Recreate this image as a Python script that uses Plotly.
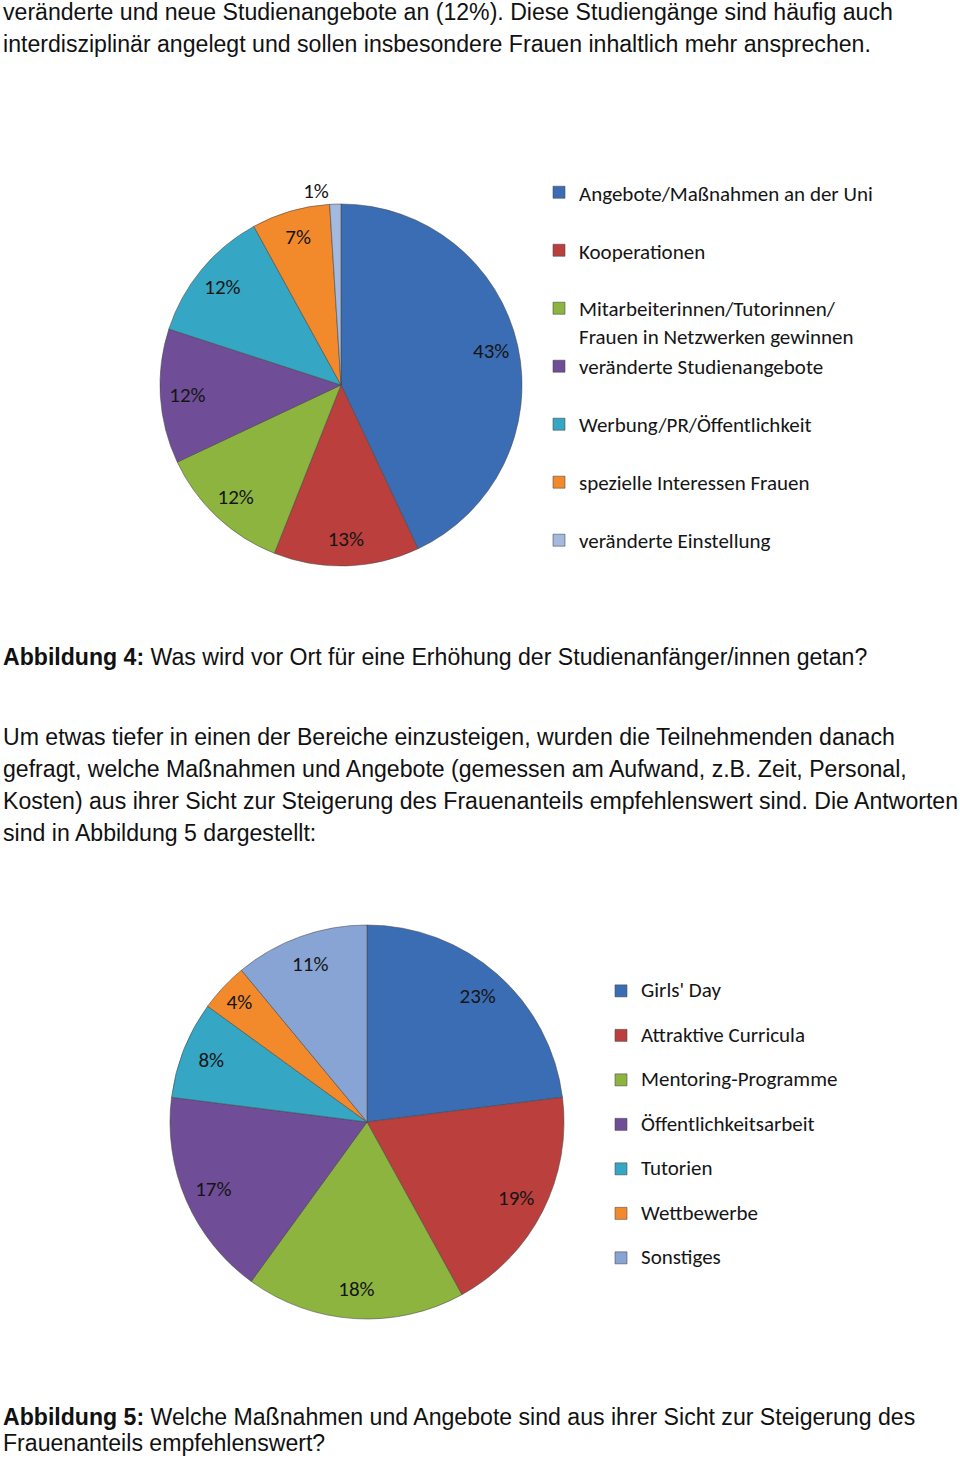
import plotly.graph_objects as go

W, H = 960, 1460

# ---------------- data ----------------
cats1 = ["Angebote/Maßnahmen an der Uni",
         "Kooperationen",
         "Mitarbeiterinnen/Tutorinnen/<br>Frauen in Netzwerken gewinnen",
         "veränderte Studienangebote",
         "Werbung/PR/Öffentlichkeit",
         "spezielle Interessen Frauen",
         "veränderte Einstellung"]
vals1 = [43, 13, 12, 12, 12, 7, 1]

cats2 = ["Girls' Day",
         "Attraktive Curricula",
         "Mentoring-Programme",
         "Öffentlichkeitsarbeit",
         "Tutorien",
         "Wettbewerbe",
         "Sonstiges"]
vals2 = [23, 19, 18, 17, 8, 4, 11]

top_lines = ["veränderte und neue Studienangebote an (12%). Diese Studiengänge sind häufig auch",
             "interdisziplinär angelegt und sollen insbesondere Frauen inhaltlich mehr ansprechen."]
caption4 = ["<b>Abbildung 4:</b> Was wird vor Ort für eine Erhöhung der Studienanfänger/innen getan?"]
para_lines = ["Um etwas tiefer in einen der Bereiche einzusteigen, wurden die Teilnehmenden danach",
              "gefragt, welche Maßnahmen und Angebote (gemessen am Aufwand, z.B. Zeit, Personal,",
              "Kosten) aus ihrer Sicht zur Steigerung des Frauenanteils empfehlenswert sind. Die Antworten",
              "sind in Abbildung 5 dargestellt:"]
caption5 = ["<b>Abbildung 5:</b> Welche Maßnahmen und Angebote sind aus ihrer Sicht zur Steigerung des",
            "Frauenanteils empfehlenswert?"]

# ---------------- styles ----------------
colors1 = ["#3b6db4", "#bb403d", "#8db43f", "#6f4e97", "#35a6c3", "#f28a2b", "#a3b9de"]
colors2 = ["#3b6db4", "#bb403d", "#8db43f", "#6f4e97", "#35a6c3", "#f28a2b", "#87a4d4"]
LABFONT = "Carlito, Calibri, Lato, sans-serif"
BODYFONT = "Liberation Sans, Arial, Helvetica, sans-serif"
TXT = 21            # visible legend / label text size
LEG1 = 21.15        # legend 1 line pitch font size
LEG2 = 15.96        # legend 2 line pitch font size


def leg_labels(cats):
    out = []
    for c in cats:
        lines = c.split("<br>")
        lines = lines + [" "] * (2 - len(lines))
        out.append("<br>".join(f'<span style="font-size:{TXT}px">{l}</span>' for l in lines))
    return out


def dom(cx, cy, r):
    return dict(x=[(cx - r) / W, (cx + r) / W], y=[1 - (cy + r) / H, 1 - (cy - r) / H])


line_style = dict(color="rgba(70,70,70,0.55)", width=1)

fig = go.Figure()

# pie 1
d1 = dom(341, 385, 181)
fig.add_trace(go.Pie(labels=leg_labels(cats1), values=vals1, sort=False, direction="clockwise",
                     rotation=0, domain=d1, marker=dict(colors=colors1, line=line_style),
                     textinfo="none", hoverinfo="skip", legend="legend"))
fig.add_trace(go.Pie(labels=leg_labels(cats1), values=vals1, sort=False, direction="clockwise",
                     rotation=0, domain=d1, hole=0.7,
                     marker=dict(colors=["rgba(0,0,0,0)"] * len(vals1), line=dict(width=0)),
                     texttemplate="%{value}%", insidetextorientation="horizontal",
                     textposition=["inside"] * (len(vals1) - 1) + ["outside"],
                     textfont=dict(family=LABFONT, size=TXT, color="#151515"),
                     showlegend=False, hoverinfo="skip"))

# pie 2
d2 = dom(367, 1122, 197)
fig.add_trace(go.Pie(labels=leg_labels(cats2), values=vals2, sort=False, direction="clockwise",
                     rotation=0, domain=d2, marker=dict(colors=colors2, line=line_style),
                     textinfo="none", hoverinfo="skip", legend="legend2"))
fig.add_trace(go.Pie(labels=leg_labels(cats2), values=vals2, sort=False, direction="clockwise",
                     rotation=0, domain=d2, hole=0.7,
                     marker=dict(colors=["rgba(0,0,0,0)"] * len(vals2), line=dict(width=0)),
                     texttemplate="%{value}%", insidetextorientation="horizontal",
                     textposition="inside",
                     textfont=dict(family=LABFONT, size=TXT, color="#151515"),
                     showlegend=False, hoverinfo="skip"))

# body text
annotations = []


def add_lines(lines, y0, pitch, size=23.1):
    for i, t in enumerate(lines):
        annotations.append(dict(text=t, x=2 / W, y=1 - (y0 + i * pitch) / H, xref="paper", yref="paper",
                                xanchor="left", yanchor="middle", showarrow=False, borderpad=0,
                                font=dict(family=BODYFONT, size=size, color="#111")))


add_lines(top_lines, 12, 32)
add_lines(caption4, 657, 32)
add_lines(para_lines, 737, 32)
add_lines(caption5, 1417, 26)

fig.update_layout(
    width=W, height=H, margin=dict(l=0, r=0, t=0, b=0),
    paper_bgcolor="white", plot_bgcolor="white",
    annotations=annotations,
    legend=dict(x=539 / W, y=1 - 172 / H, xanchor="left", yanchor="top", valign="top",
                font=dict(family=LABFONT, size=LEG1, color="#151515"), bgcolor="rgba(0,0,0,0)",
                traceorder="normal"),
    legend2=dict(x=601 / W, y=1 - 974 / H, xanchor="left", yanchor="top", valign="top",
                 font=dict(family=LABFONT, size=LEG2, color="#151515"), bgcolor="rgba(0,0,0,0)",
                 traceorder="normal"),
)

fig.write_html("out.html", config={"displayModeBar": False},
               post_script="document.body.style.margin='0px';")
